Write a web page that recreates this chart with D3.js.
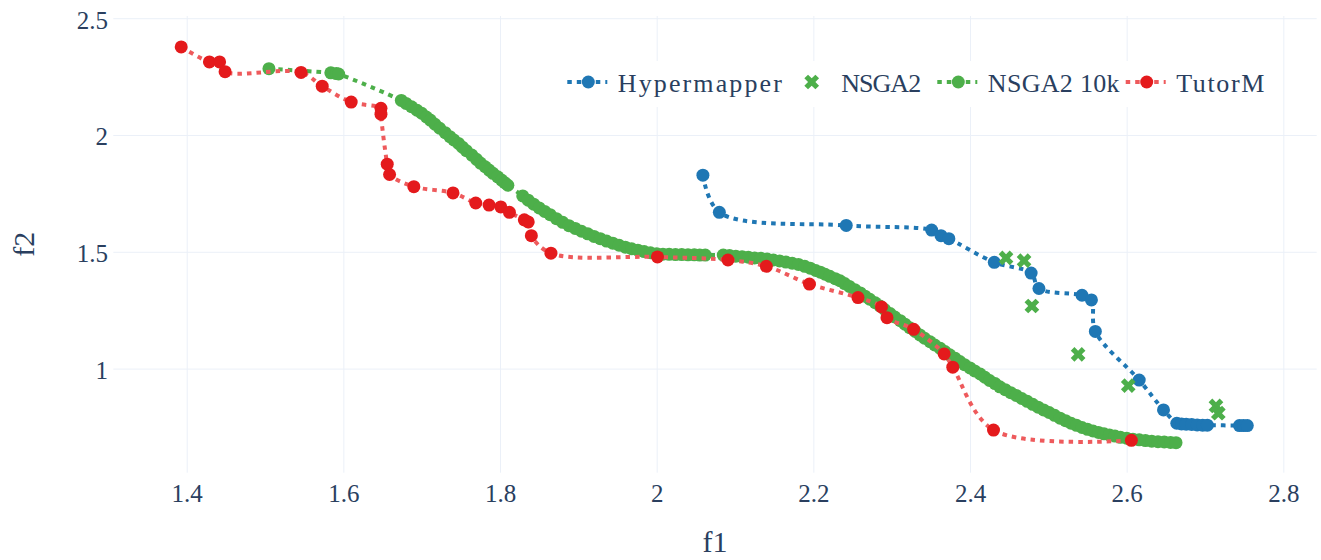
<!DOCTYPE html>
<html>
<head>
<meta charset="utf-8">
<script src="https://cdn.jsdelivr.net/npm/d3@7"></script>
<style>
body{margin:0;background:#fff;}
text{font-family:"Liberation Serif","Times New Roman",serif;fill:#2a3f5f;}
.grid line{stroke:#ebf0f8;stroke-width:1;}
.grid path{display:none;}
</style>
</head>
<body>
<script>
var WIDTH = 1321, HEIGHT = 560;
var MARGIN = {top: 16, right: 4.3, bottom: 87.3, left: 113.3};
var INNER_WIDTH = WIDTH - MARGIN.left - MARGIN.right;
var INNER_HEIGHT = HEIGHT - MARGIN.top - MARGIN.bottom;

// axis ranges and ticks
var xDomain = [1.3063, 2.8426];
var yDomain = [0.5544, 2.5094];
var xTicks = [1.4, 1.6, 1.8, 2, 2.2, 2.4, 2.6, 2.8];
var xTickLabels = ['1.4', '1.6', '1.8', '2', '2.2', '2.4', '2.6', '2.8'];
var yTicks = [1, 1.5, 2, 2.5];
var yTickLabels = ['1', '1.5', '2', '2.5'];

// series  [f1, f2]
var hypermapper = [[2.059,1.828],[2.080,1.669],[2.242,1.613],[2.351,1.593],[2.363,1.569],[2.373,1.556],
    [2.431,1.455],[2.478,1.409],[2.488,1.343],[2.543,1.314],[2.555,1.294],[2.560,1.159],[2.616,0.951],
    [2.647,0.823],[2.664,0.766],[2.670,0.763],[2.676,0.762],[2.683,0.761],[2.690,0.759],[2.697,0.758],
    [2.703,0.758],[2.744,0.756],[2.749,0.756],[2.754,0.756]];

var nsga2 = [[2.446,1.474],[2.469,1.462],[2.479,1.268],[2.538,1.061],[2.602,0.927],[2.714,0.840],[2.717,0.809]];

var nsga2_10k = [[1.505,2.284],[1.584,2.266],[1.591,2.263],[1.594,2.261],
    [1.674,2.148],[1.680,2.135],[1.687,2.121],[1.694,2.106],[1.700,2.093],[1.706,2.077],[1.711,2.064],
    [1.717,2.046],[1.723,2.029],[1.730,2.010],[1.736,1.993],[1.741,1.979],[1.747,1.964],[1.752,1.948],
    [1.757,1.933],[1.764,1.914],[1.770,1.896],[1.775,1.880],[1.781,1.864],[1.786,1.850],[1.791,1.836],
    [1.797,1.821],[1.802,1.807],[1.806,1.796],[1.810,1.785],
    [1.829,1.739],[1.836,1.721],[1.843,1.704],[1.850,1.688],[1.857,1.673],[1.864,1.659],[1.872,1.642],
    [1.880,1.626],[1.888,1.612],[1.896,1.600],[1.904,1.588],[1.912,1.577],[1.920,1.566],[1.928,1.556],
    [1.936,1.546],[1.944,1.537],[1.952,1.528],[1.960,1.520],[1.968,1.513],[1.976,1.507],[1.984,1.501],
    [1.992,1.496],[2.000,1.492],[2.008,1.490],[2.016,1.489],[2.024,1.488],[2.032,1.488],[2.040,1.487],
    [2.048,1.487],[2.055,1.486],[2.062,1.486],
    [2.085,1.486],[2.093,1.484],[2.101,1.481],[2.109,1.479],[2.117,1.477],[2.125,1.474],[2.133,1.472],
    [2.141,1.469],[2.149,1.465],[2.157,1.461],[2.165,1.456],[2.173,1.451],[2.181,1.446],[2.189,1.438],
    [2.196,1.430],[2.203,1.420],[2.209,1.413],[2.215,1.404],[2.221,1.395],[2.228,1.385],[2.234,1.376],
    [2.240,1.364],[2.246,1.352],[2.253,1.338],[2.260,1.324],[2.266,1.310],[2.272,1.297],[2.279,1.282],
    [2.285,1.268],[2.291,1.253],[2.298,1.236],[2.304,1.221],[2.311,1.205],[2.317,1.190],[2.323,1.175],
    [2.330,1.159],[2.336,1.144],[2.342,1.130],[2.349,1.115],[2.355,1.101],[2.362,1.087],[2.368,1.073],
    [2.374,1.059],[2.381,1.044],[2.387,1.030],[2.393,1.017],[2.400,1.003],[2.406,0.990],[2.413,0.977],
    [2.419,0.963],[2.425,0.949],[2.432,0.936],[2.438,0.922],[2.445,0.910],[2.452,0.897],[2.459,0.885],
    [2.466,0.872],[2.473,0.860],[2.480,0.847],[2.487,0.835],[2.494,0.823],[2.501,0.812],[2.508,0.800],
    [2.515,0.788],[2.522,0.777],[2.529,0.766],[2.536,0.757],[2.543,0.748],[2.550,0.740],[2.557,0.733],
    [2.564,0.727],[2.571,0.721],[2.578,0.716],[2.585,0.711],[2.592,0.706],[2.600,0.702],[2.608,0.698],
    [2.616,0.695],[2.624,0.692],[2.632,0.689],[2.640,0.687],[2.648,0.686],[2.656,0.684],[2.663,0.683]];

var tutorm = [[1.393,2.377],[1.429,2.313],[1.442,2.313],[1.449,2.271],[1.546,2.268],[1.573,2.209],
    [1.610,2.141],[1.648,2.114],[1.648,2.089],[1.656,1.875],[1.659,1.831],[1.690,1.779],[1.740,1.752],
    [1.769,1.709],[1.786,1.700],[1.801,1.692],[1.812,1.669],[1.831,1.637],[1.836,1.628],[1.840,1.569],
    [1.865,1.494],[2.001,1.478],[2.091,1.465],[2.140,1.438],[2.195,1.362],[2.257,1.304],[2.287,1.264],
    [2.294,1.218],[2.328,1.168],[2.367,1.063],[2.378,1.006],[2.430,0.737],[2.606,0.693]];

var seriesNames = ['Hypermapper', 'NSGA2', 'NSGA2 10k', 'TutorM'];
var seriesData = [hypermapper, nsga2, nsga2_10k, tutorm];
var markerColors = ['#1f77b4', '#4daf4a', '#4daf4a', '#e41a1c'];
var lineColors = ['#1f77b4', null, '#4daf4a', '#ee5a5c'];
var markerSymbols = ['circle', 'x', 'circle', 'circle'];

var MARKER_R = 6.5;
var _xScale, _yScale, _svg;

// plotly-like "x" marker outline
var xSymbol = function(r){
    var rx = (r * 0.8 / Math.SQRT2).toFixed(2);
    var ne = 'l' + rx + ',' + rx, se = 'l' + rx + ',-' + rx,
        sw = 'l-' + rx + ',-' + rx, nw = 'l-' + rx + ',' + rx;
    return 'M0,' + rx + ne + se + sw + se + sw + nw + sw + nw + ne + nw + ne + 'Z';
};

var drawMarker = function(sel, symbol, color){
    if (symbol === 'x') {
        sel.append('path').attr('d', xSymbol(MARKER_R)).attr('fill', color);
    } else {
        sel.append('circle').attr('r', MARKER_R).attr('fill', color);
    }
};

var createChart = function(){
    _xScale = d3.scaleLinear().domain(xDomain).range([0, INNER_WIDTH]);
    _yScale = d3.scaleLinear().domain(yDomain).range([INNER_HEIGHT, 0]);

    _svg = d3.select('body').append('svg')
        .attr('width', WIDTH)
        .attr('height', HEIGHT);

    var g = _svg.append('g')
        .attr('transform', 'translate(' + MARGIN.left + ',' + MARGIN.top + ')');

    generateAxis(g);

    seriesData.forEach(function(data, i){
        createSeries(g, data, i);
    });

    createLegend();

    _svg.append('text')
        .attr('x', MARGIN.left + INNER_WIDTH / 2)
        .attr('y', 552)
        .attr('text-anchor', 'middle')
        .style('font-size', '30px')
        .text('f1');

    _svg.append('text')
        .attr('transform', 'translate(34,' + (MARGIN.top + INNER_HEIGHT / 2) + ') rotate(-90)')
        .attr('text-anchor', 'middle')
        .style('font-size', '30px')
        .text('f2');
};

var generateAxis = function(g){
    var xAxis = d3.axisBottom(_xScale)
        .tickValues(xTicks)
        .tickSize(-INNER_HEIGHT)
        .tickFormat(function(d, i){ return xTickLabels[i]; });

    var yAxis = d3.axisLeft(_yScale)
        .tickValues(yTicks)
        .tickSize(-INNER_WIDTH)
        .tickFormat(function(d, i){ return yTickLabels[i]; });

    var gx = g.append('g').classed('grid', true)
        .attr('transform', 'translate(0,' + INNER_HEIGHT + ')')
        .call(xAxis);
    gx.selectAll('text')
        .attr('y', 29).attr('dy', 0)
        .style('font-size', '25px')
        .style('fill', '#2a3f5f');

    var gy = g.append('g').classed('grid', true).call(yAxis);
    gy.selectAll('text')
        .attr('x', -5.3).attr('dy', 10)
        .style('font-size', '25px')
        .style('fill', '#2a3f5f');
};

var createSeries = function(g, data, i){
    var sg = g.append('g');

    if (lineColors[i]) {
        var line = d3.line()
            .x(function(d){ return _xScale(d[0]); })
            .y(function(d){ return _yScale(d[1]); })
            .curve(d3.curveCatmullRom.alpha(0.5));

        sg.append('path')
            .attr('d', line(data))
            .attr('fill', 'none')
            .attr('stroke', lineColors[i])
            .attr('stroke-width', 4)
            .attr('stroke-dasharray', '4.5,5');
    }

    sg.selectAll('g.pt').data(data)
        .enter()
        .append('g')
            .classed('pt', true)
            .attr('transform', function(d){ return 'translate(' + _xScale(d[0]) + ',' + _yScale(d[1]) + ')'; })
            .each(function(){ drawMarker(d3.select(this), markerSymbols[i], markerColors[i]); });
};

// legend layout
var LEGEND_BOX = {x: 556, y: 61, w: 716, h: 46};
var legendCenters = [588.3, 811.7, 958.3, 1146.7];
var legendTextWidths = [164, 80, 131.7, 88.3];

var createLegend = function(){
    var lg = _svg.append('g');
    lg.append('rect')
        .attr('x', LEGEND_BOX.x).attr('y', LEGEND_BOX.y)
        .attr('width', LEGEND_BOX.w).attr('height', LEGEND_BOX.h)
        .attr('fill', '#fff');

    seriesNames.forEach(function(name, i){
        var item = lg.append('g').attr('transform', 'translate(' + legendCenters[i] + ',82)');
        if (lineColors[i]) {
            item.append('line')
                .attr('x1', -21).attr('x2', 19)
                .attr('stroke', lineColors[i])
                .attr('stroke-width', 4)
                .attr('stroke-dasharray', '4.5,5');
        }
        drawMarker(item, markerSymbols[i], markerColors[i]);
        item.append('text')
            .attr('x', 29.5)
            .attr('y', 10.3)
            .attr('textLength', legendTextWidths[i])
            .attr('lengthAdjust', 'spacing')
            .style('font-size', '26px')
            .text(name);
    });
};

createChart();
</script>
</body>
</html>
